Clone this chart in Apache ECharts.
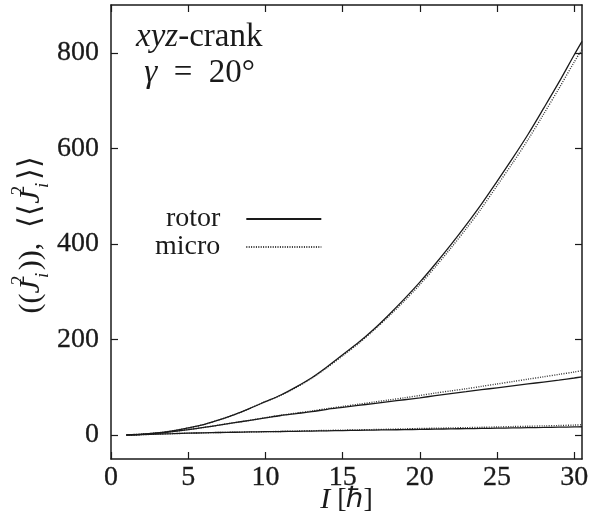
<!DOCTYPE html>
<html>
<head>
<meta charset="utf-8">
<script src="https://cdn.jsdelivr.net/npm/echarts@6/dist/echarts.min.js"></script>
<style>
html, body { margin: 0; background: #fff; }
#chart { width: 603px; height: 520px; }
</style>
</head>
<body>
<div id="chart"></div>
<script>
// spin I (hbar) and the three pairs of curves
var spin = [1, 2, 3, 4, 5, 6, 7, 8, 9, 10, 11, 12, 13, 14, 15, 16, 17, 18, 19, 20,
            21, 22, 23, 24, 25, 26, 27, 28, 29, 30, 30.5];
var rotorTop = [0.5, 2, 4.5, 9, 15, 22, 32, 43, 56, 70, 84, 101, 120, 143, 168, 193, 221, 252, 285, 320,
                358, 398, 440, 484, 531, 579, 629, 683, 738, 796, 824];
var microTop = [0.5, 2, 4.5, 9, 15, 22, 32, 43, 56, 70, 83.5, 100, 119, 141.5, 166, 191, 219, 249, 281, 315,
                352, 391, 432, 475, 522, 569, 618, 671, 725, 781, 807];
var rotorMid = [0, 1.5, 4, 7.5, 11.5, 16, 21, 26, 31, 36, 41, 45, 49, 54, 58, 62, 66, 70, 74, 78,
                82.5, 87, 91, 95, 99, 103, 107, 111, 115, 119.5, 122];
var microMid = [0, 1.5, 4, 7.5, 11.5, 16, 21, 26, 31, 36.5, 41.5, 46, 50.5, 55.5, 60, 64.5, 69, 73.5, 78, 83,
                88, 92.5, 97, 102, 107, 112, 117, 122, 127, 132, 135];
var rotorLow = [0, 1, 2, 3, 4, 4.8, 5.5, 6, 6.6, 7.1, 7.5, 8, 8.5, 9, 9.5, 10, 10.5, 11, 11.5, 12,
                12.5, 13, 13.5, 14, 14.5, 15, 15.5, 16, 16.6, 17.2, 17.5];
var microLow = [0, 1, 2, 3, 4, 4.8, 5.5, 6, 6.6, 7.1, 7.7, 8.5, 9.2, 9.8, 10.4, 11, 11.6, 12.3, 13, 13.8,
                14.4, 15, 15.6, 16.3, 17, 17.8, 18.5, 19.2, 20, 21, 21.7];

var xTicks = [0, 5, 10, 15, 20, 25, 30];
var yTicks = [0, 200, 400, 600, 800];

var FONT = "'Liberation Serif', 'Times New Roman', Times, serif";
var INK = '#1a1a1a';

function pairs(vals) {
    return spin.map(function (s, k) { return [s, vals[k]]; });
}

function rotor(vals) {
    return {
        name: 'rotor', type: 'line', data: pairs(vals), symbol: 'none', smooth: 0.3, z: 3,
        lineStyle: { color: INK, width: 1.3, type: 'solid' }, itemStyle: { color: INK }
    };
}

function micro(vals) {
    return {
        name: 'micro', type: 'line', data: pairs(vals), symbol: 'none', smooth: 0.3, z: 2,
        lineStyle: { color: '#333', width: 1.4, type: [1, 1.4] }, itemStyle: { color: '#333' }
    };
}

function frameAxis(pos, min, max, ticks, labels) {
    return {
        type: 'value', position: pos, min: min, max: max,
        axisLine: { show: true, onZero: false, lineStyle: { color: INK, width: 1.5 } },
        axisTick: { show: true, inside: true, length: 7, customValues: ticks,
                    lineStyle: { color: INK, width: 1.2 } },
        axisLabel: { show: labels, customValues: ticks, fontFamily: FONT, fontSize: 28,
                     color: INK, margin: pos === 'bottom' ? 5 : 12,
                     textBorderColor: INK, textBorderWidth: 0.3 },
        splitLine: { show: false }
    };
}

var chart = echarts.init(document.getElementById('chart'));

var xMain = frameAxis('bottom', 0, 30.5, xTicks, true);
xMain.name = '{it|I} [ℏ]';
xMain.nameLocation = 'middle';
xMain.nameGap = 26;
xMain.nameMoveOverlap = false;
xMain.nameTextStyle = {
    fontFamily: FONT, fontSize: 28, color: INK,
    rich: { it: { fontFamily: FONT, fontSize: 30, fontStyle: 'italic', color: INK } }
};

chart.setOption({
    animation: false,
    backgroundColor: '#fff',
    grid: { left: 111, right: 21, top: 5, bottom: 61, containLabel: false, outerBoundsMode: 'none' },
    xAxis: [xMain, frameAxis('top', 0, 30.5, xTicks, false)],
    yAxis: [frameAxis('left', -50, 900, yTicks, true), frameAxis('right', -50, 900, yTicks, false)],
    title: {
        left: 131, top: 14,
        text: '{it|xyz}-crank\n {it|γ}  =  20°',
        textStyle: {
            fontFamily: FONT, fontSize: 33, fontWeight: 'normal', color: INK, lineHeight: 36,
            rich: { it: { fontFamily: FONT, fontSize: 33, fontStyle: 'italic', color: INK, lineHeight: 36 } }
        }
    },
    legend: {
        data: ['rotor', 'micro'],
        orient: 'vertical', align: 'right',
        left: 150, top: 200,
        itemWidth: 75, itemHeight: 12, itemGap: 0,
        itemStyle: { opacity: 0 },
        textStyle: { fontFamily: FONT, fontSize: 28, color: INK, width: 54,
                     lineHeight: 26, padding: [0, 21, 0, 0] }
    },
    graphic: [{
        type: 'text', x: 31, y: 235, rotation: Math.PI / 2,
        style: {
            text: '(({j|J}{sup|2}{sub|i})),  ⟨⟨{j|J}{sup|2}{sub|i}⟩⟩',
            fontFamily: FONT, fontSize: 30, fill: INK, align: 'center', verticalAlign: 'middle',
            lineHeight: 42,
            rich: {
                j: { fontFamily: FONT, fontSize: 30, fontStyle: 'italic', fill: INK, lineHeight: 42 },
                sup: { fontFamily: FONT, fontSize: 19, fill: INK, verticalAlign: 'top', lineHeight: 23, width: 0 },
                sub: { fontFamily: FONT, fontSize: 19, fontStyle: 'italic', fill: INK, verticalAlign: 'bottom', lineHeight: 23, width: 10 }
            }
        }
    }],
    series: [
        rotor(rotorTop), micro(microTop),
        rotor(rotorMid), micro(microMid),
        rotor(rotorLow), micro(microLow)
    ]
});
</script>
</body>
</html>
